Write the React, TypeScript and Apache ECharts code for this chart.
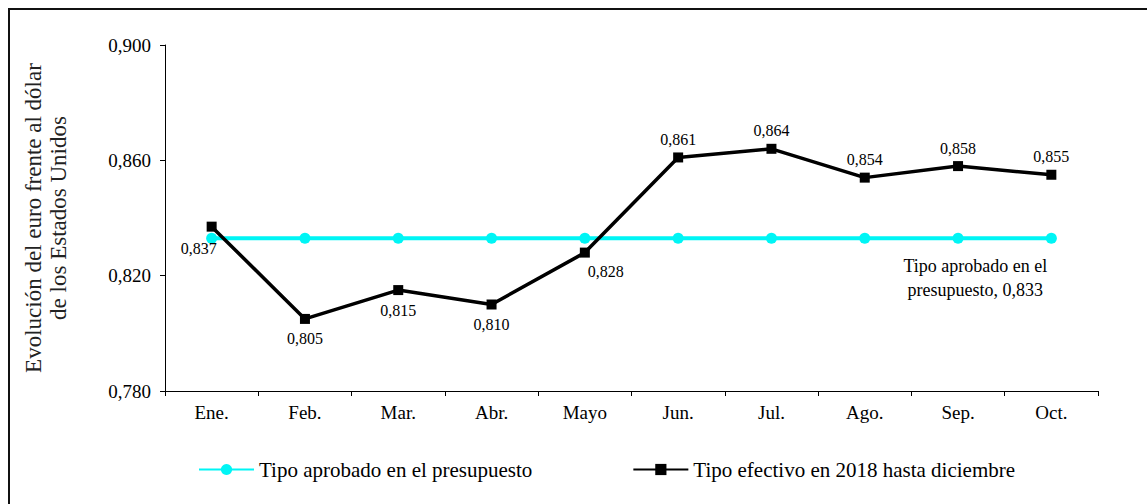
import React, { useEffect, useRef } from "react";
import * as echarts from "echarts";

const categories = ["Ene.", "Feb.", "Mar.", "Abr.", "Mayo", "Jun.", "Jul.", "Ago.", "Sep.", "Oct."];
const budgetRate = [0.833, 0.833, 0.833, 0.833, 0.833, 0.833, 0.833, 0.833, 0.833, 0.833];
const actualRate = [0.837, 0.805, 0.815, 0.81, 0.828, 0.861, 0.864, 0.854, 0.858, 0.855];
const seriesNames = ["Tipo aprobado en el presupuesto", "Tipo efectivo en 2018 hasta diciembre"];
const yAxisTitle = "Evolución del euro frente al dólar\nde los Estados Unidos";
const budgetNote = "Tipo aprobado en el\npresupuesto";

const FONT = "Liberation Serif";
const fmt = (v: number) => v.toFixed(3).replace(".", ",");

export default function App() {
  const ref = useRef<HTMLDivElement>(null);
  useEffect(() => {
    if (!ref.current) return;
    const chart = echarts.init(ref.current, undefined, { renderer: "svg" });

    const actualData = actualRate.map((v, i) => {
      let label: any = { position: "top", offset: [0, 0] };
      if (i === 0) label = { position: "inside", offset: [-13, 22] };
      else if (i === 4) label = { position: "inside", offset: [21, 19] };
      else if (i >= 1 && i <= 3) label = { position: "bottom", offset: [0, 2] };
      return { value: v, label };
    });

    const budgetData = budgetRate.map((v, i) =>
      i === budgetRate.length - 1
        ? {
            value: v,
            label: {
              show: true,
              position: "inside",
              offset: [-76, 40],
              formatter: () => `${budgetNote}, ${fmt(v)}`,
              fontFamily: FONT,
              fontSize: 18,
              lineHeight: 24,
              color: "#000",
              align: "center",
            },
          }
        : v
    );

    chart.setOption({
      animation: false,
      backgroundColor: "#fff",
      textStyle: { fontFamily: FONT },
      graphic: [
        {
          type: "rect",
          shape: { x: 9, y: 9, width: 1300, height: 700 },
          style: { fill: "none", stroke: "#111", lineWidth: 2 },
          silent: true,
        },
      ],
      grid: { left: 165, right: 49, top: 45, bottom: 113, containLabel: false },
      legend: {
        left: 193,
        top: 454,
        itemWidth: 55,
        itemHeight: 14,
        itemGap: 100,
        textStyle: { fontFamily: FONT, fontSize: 21, color: "#000" },
        data: seriesNames,
      },
      xAxis: {
        type: "category",
        data: categories,
        boundaryGap: true,
        axisLine: { lineStyle: { color: "#000", width: 1 } },
        axisTick: { show: true, length: 5, lineStyle: { color: "#000" } },
        axisLabel: { fontFamily: FONT, fontSize: 19, color: "#000", margin: 12 },
      },
      yAxis: {
        type: "value",
        min: 0.78,
        max: 0.9,
        interval: 0.04,
        name: yAxisTitle,
        nameLocation: "middle",
        nameRotate: 90,
        nameGap: 94,
        nameTextStyle: { fontFamily: FONT, fontSize: 23, color: "#222", lineHeight: 25 },
        splitLine: { show: false },
        axisLine: { show: true, lineStyle: { color: "#000", width: 1 } },
        axisTick: { show: true, length: 5, lineStyle: { color: "#000" } },
        axisLabel: {
          fontFamily: FONT,
          fontSize: 19,
          color: "#000",
          margin: 14,
          formatter: (v: number) => fmt(v),
        },
      },
      series: [
        {
          name: seriesNames[0],
          type: "line",
          data: budgetData,
          symbol: "circle",
          symbolSize: 11,
          lineStyle: { color: "#00F5F5", width: 4 },
          itemStyle: { color: "#00F5F5" },
          z: 2,
        },
        {
          name: seriesNames[1],
          type: "line",
          data: actualData,
          symbol: "rect",
          symbolSize: 10,
          lineStyle: { color: "#000", width: 3.5 },
          itemStyle: { color: "#000" },
          label: {
            show: true,
            fontFamily: FONT,
            fontSize: 16,
            color: "#000",
            formatter: (p: any) => fmt(p.value),
          },
          z: 3,
        },
      ],
    });
    return () => chart.dispose();
  }, []);

  return (
    <div
      ref={ref}
      style={{ position: "fixed", left: 0, top: 0, width: 1147, height: 504 }}
    />
  );
}
